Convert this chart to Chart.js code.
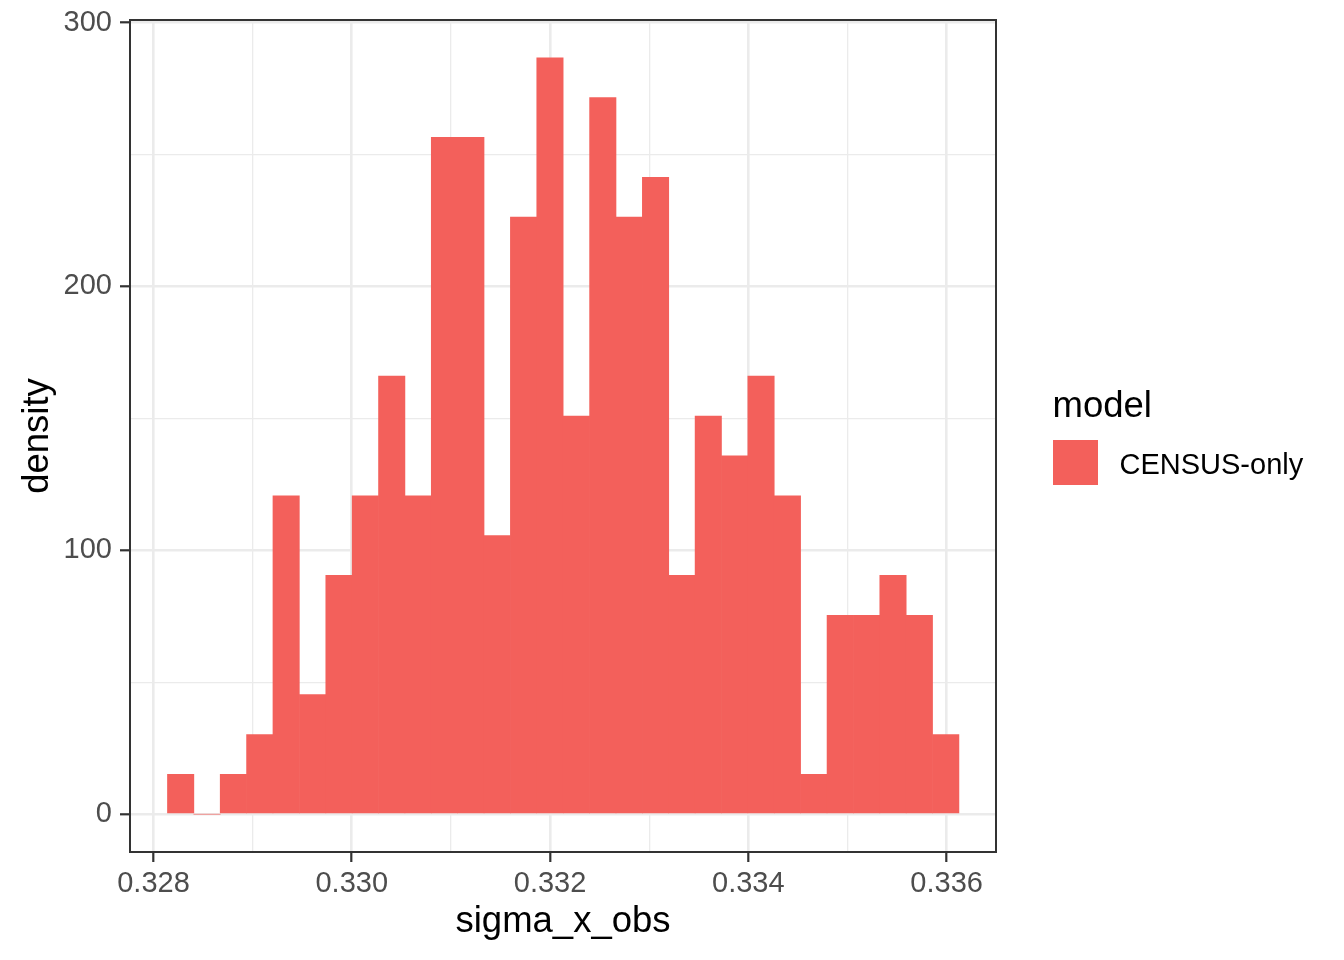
<!DOCTYPE html>
<html>
<head>
<meta charset="utf-8">
<script src="https://cdn.jsdelivr.net/npm/chart.js@4.4.1/dist/chart.umd.min.js"></script>
<style>
html, body { margin: 0; padding: 0; background: #ffffff; }
canvas { display: block; }
</style>
</head>
<body>
<canvas id="c" width="1344" height="960"></canvas>
<script>
// ---- data ----
const binCenters = [
  0.328274, 0.328540, 0.328806, 0.329072, 0.329338, 0.329605, 0.329871, 0.330137,
  0.330403, 0.330669, 0.330935, 0.331201, 0.331467, 0.331733, 0.331999, 0.332266,
  0.332532, 0.332798, 0.333064, 0.333330, 0.333596, 0.333862, 0.334128, 0.334394,
  0.334660, 0.334927, 0.335193, 0.335459, 0.335725, 0.335991
];
const density = [
  15.1, 0, 15.1, 30.2, 120.7, 45.3, 90.5, 120.7,
  166.0, 120.7, 256.5, 256.5, 105.6, 226.3, 286.7, 150.9,
  271.6, 226.3, 241.4, 90.5, 150.9, 135.8, 166.0, 120.7,
  15.1, 75.4, 75.4, 90.5, 75.4, 30.2
];
const seriesLabel = 'CENSUS-only';
const legendTitle = 'model';
const xTitle = 'sigma_x_obs';
const yTitle = 'density';
const xMajorTicks = [0.328, 0.330, 0.332, 0.334, 0.336];
const xTickLabels = ['0.328', '0.330', '0.332', '0.334', '0.336'];
const xMinorTicks = [0.329, 0.331, 0.333, 0.335];
const yMajorTicks = [0, 100, 200, 300];
const yTickLabels = ['0', '100', '200', '300'];
const yMinorTicks = [50, 150, 250];
const xRange = [0.327763, 0.336498];
const yRange = [-14.33, 301.0];

// ---- styling ----
const FONT = '"Liberation Sans", Arial, Helvetica, sans-serif';
const barColor = '#F3605B';
const gridColor = '#EBEBEB';
const axisColor = '#333333';

const majorIndex = (list, v) => list.findIndex(m => Math.abs(m - v) < 1e-9);

const panelBorder = {
  id: 'panelBorder',
  afterDraw(chart) {
    const { ctx, chartArea: a } = chart;
    ctx.save();
    ctx.strokeStyle = axisColor;
    ctx.lineWidth = 2;
    ctx.strokeRect(a.left, a.top, a.right - a.left, a.bottom - a.top);
    ctx.restore();
  }
};

const ggLegend = {
  id: 'ggLegend',
  afterDraw(chart) {
    const { ctx } = chart;
    const ds = chart.data.datasets[0];
    ctx.save();
    ctx.fillStyle = '#000000';
    ctx.textAlign = 'left';
    ctx.textBaseline = 'alphabetic';
    ctx.font = '36.5px ' + FONT;
    ctx.fillText(legendTitle, 1052.5, 416.5);
    ctx.fillStyle = ds.backgroundColor;
    ctx.fillRect(1053, 440, 45, 45);
    ctx.fillStyle = '#000000';
    ctx.font = '29px ' + FONT;
    ctx.fillText(ds.label, 1119.5, 474.3);
    ctx.restore();
  }
};

new Chart(document.getElementById('c'), {
  type: 'bar',
  data: {
    datasets: [{
      label: seriesLabel,
      data: binCenters.map((x, i) => ({ x: x, y: density[i] })),
      backgroundColor: barColor,
      borderWidth: 0,
      barPercentage: 1,
      categoryPercentage: 1
    }]
  },
  options: {
    responsive: false,
    devicePixelRatio: 1,
    animation: false,
    layout: { padding: { left: 0, top: 20, right: 348, bottom: 0 } },
    plugins: {
      legend: { display: false },
      tooltip: { enabled: false }
    },
    scales: {
      x: {
        type: 'linear',
        min: xRange[0],
        max: xRange[1],
        offset: false,
        afterBuildTicks: s => {
          s.ticks = xMajorTicks.concat(xMinorTicks).sort((a, b) => a - b).map(v => ({ value: v }));
        },
        afterFit: s => { s.height = 108; s.paddingLeft = 0; s.paddingRight = 0; },
        grid: {
          offset: false,
          color: gridColor,
          lineWidth: c => (c.tick && majorIndex(xMajorTicks, c.tick.value) >= 0) ? 2.6 : 1.3,
          drawTicks: true,
          tickLength: 10,
          tickWidth: 2.2,
          tickColor: c => (c.tick && majorIndex(xMajorTicks, c.tick.value) >= 0) ? axisColor : 'rgba(0,0,0,0)'
        },
        border: { display: false },
        ticks: {
          autoSkip: false,
          maxRotation: 0,
          minRotation: 0,
          padding: 5,
          color: '#4D4D4D',
          font: { family: FONT, size: 29 },
          callback: v => { const i = majorIndex(xMajorTicks, v); return i >= 0 ? xTickLabels[i] : ''; }
        },
        title: {
          display: true,
          text: xTitle,
          color: '#000000',
          font: { family: FONT, size: 36.5 },
          padding: { top: 0, bottom: 16 }
        }
      },
      y: {
        type: 'linear',
        min: yRange[0],
        max: yRange[1],
        afterBuildTicks: s => {
          s.ticks = yMajorTicks.concat(yMinorTicks).sort((a, b) => a - b).map(v => ({ value: v }));
        },
        afterFit: s => { s.width = 130; s.paddingTop = 0; s.paddingBottom = 0; },
        grid: {
          color: gridColor,
          lineWidth: c => (c.tick && majorIndex(yMajorTicks, c.tick.value) >= 0) ? 2.6 : 1.3,
          drawTicks: true,
          tickLength: 10,
          tickWidth: 2.2,
          tickColor: c => (c.tick && majorIndex(yMajorTicks, c.tick.value) >= 0) ? axisColor : 'rgba(0,0,0,0)'
        },
        border: { display: false },
        ticks: {
          autoSkip: false,
          padding: 8,
          color: '#4D4D4D',
          font: { family: FONT, size: 29 },
          callback: v => { const i = majorIndex(yMajorTicks, v); return i >= 0 ? yTickLabels[i] : ''; }
        },
        title: {
          display: true,
          text: yTitle,
          color: '#000000',
          font: { family: FONT, size: 36.5 },
          padding: { top: 16.5, bottom: 0 }
        }
      }
    }
  },
  plugins: [panelBorder, ggLegend]
});
</script>
</body>
</html>
